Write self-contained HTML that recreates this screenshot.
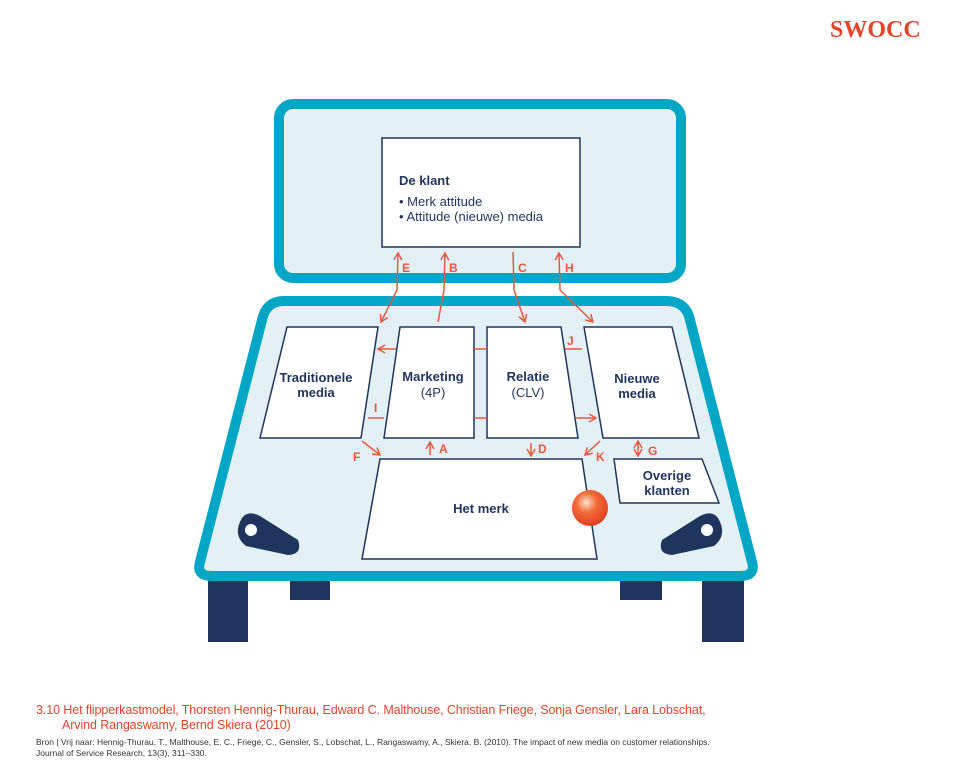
<!DOCTYPE html>
<html><head><style>
body{margin:0;background:#fff;width:960px;height:773px;overflow:hidden;font-family:"Liberation Sans",sans-serif}
</style></head><body>
<svg width="960" height="773" viewBox="0 0 960 773" xmlns="http://www.w3.org/2000/svg">
<defs><marker id="a" markerWidth="10" markerHeight="10" refX="8" refY="5" orient="auto" markerUnits="userSpaceOnUse"><path d="M1,1 L8,5 L1,9" fill="none" stroke="#e8583c" stroke-width="1.5"/></marker></defs>
<text x="830" y="37" font-family="Liberation Serif" font-weight="bold" font-size="24" fill="#e2452c">SWOCC</text>
<rect x="208" y="575" width="40" height="67" fill="#1f355e"/>
<rect x="702" y="575" width="42" height="67" fill="#1f355e"/>
<rect x="290" y="575" width="40" height="25" fill="#1f355e"/>
<rect x="620" y="575" width="42" height="25" fill="#1f355e"/>
<rect x="279" y="104" width="402" height="174" rx="14" fill="#e3f1f6" stroke="#00a6c6" stroke-width="10"/>
<rect x="382" y="138" width="198" height="109" fill="#fff" stroke="#1f355e" stroke-width="1.5"/>
<text x="399" y="185" font-size="13" font-weight="bold" fill="#1f355e">De klant</text>
<text x="399" y="206" font-size="13" fill="#1f355e">• Merk attitude</text>
<text x="399" y="221" font-size="13" fill="#1f355e">• Attitude (nieuwe) media</text>
<path d="M284,301 L666,301 Q686,301 690,320 L752,562 Q756,576 740,576 L212,576 Q196,576 200,562 L262,320 Q266,301 284,301 Z" fill="#e3f1f6" stroke="#00a6c6" stroke-width="10" stroke-linejoin="round"/>
<g fill="#fff" stroke="#1f355e" stroke-width="1.5">
<path d="M287,327 L378,327 L361,438 L260,438 Z"/>
<path d="M400,327 L474,327 L474,438 L384,438 Z"/>
<path d="M487,327 L561,327 L578,438 L487,438 Z"/>
<path d="M584,327 L672,327 L699,438 L603,438 Z"/>
<path d="M380,459 L582,459 L597,559 L362,559 Z"/>
<path d="M614,459 L702,459 L719,503 L620,503 Z"/>
</g>
<g font-size="13" font-weight="bold" fill="#1f355e" text-anchor="middle">
<text x="316" y="382">Traditionele</text><text x="316" y="397">media</text>
<text x="433" y="381">Marketing</text><text x="433" y="397" font-weight="normal">(4P)</text>
<text x="528" y="381">Relatie</text><text x="528" y="397" font-weight="normal">(CLV)</text>
<text x="637" y="383">Nieuwe</text><text x="637" y="398">media</text>
<text x="481" y="513">Het merk</text>
<text x="667" y="480">Overige</text><text x="667" y="495">klanten</text>
</g>
<defs><radialGradient id="g" cx="0.4" cy="0.35" r="0.7"><stop offset="0" stop-color="#fde3cf"/><stop offset="0.4" stop-color="#f26b3a"/><stop offset="1" stop-color="#e03a1c"/></radialGradient></defs>
<circle cx="590" cy="508" r="18" fill="url(#g)"/>
<path d="M242,518 Q232,535 246,546 L288,555 Q303,554 298,540 L260,516 Q248,510 242,518 Z" fill="#1f355e"/>
<circle cx="251" cy="530" r="6" fill="#fff"/>
<path d="M718,518 Q728,535 714,546 L672,555 Q657,554 662,540 L700,516 Q712,510 718,518 Z" fill="#1f355e"/>
<circle cx="707" cy="530" r="6" fill="#fff"/>
<g stroke="#e8583c" stroke-width="1.5" fill="none">
<path d="M397,290 L381,322" marker-end="url(#a)"/><path d="M397,290 L398,253" marker-end="url(#a)"/>
<path d="M438,322 L444,290 L445,253" marker-end="url(#a)"/>
<path d="M513,252 L514,290 L525,322" marker-end="url(#a)"/>
<path d="M560,290 L593,322" marker-end="url(#a)"/><path d="M560,290 L559,253" marker-end="url(#a)"/>
<path d="M396,349 L378,349" marker-end="url(#a)"/>
<path d="M474,349 L487,349"/><path d="M565,349 L582,349"/>
<path d="M368,418 L384,418"/><path d="M474,418 L487,418"/>
<path d="M576,418 L596,418" marker-end="url(#a)"/>
<path d="M362,441 L380,455" marker-end="url(#a)"/>
<path d="M430,455 L430,442" marker-end="url(#a)"/>
<path d="M531,443 L531,456" marker-end="url(#a)"/>
<path d="M600,441 L585,455" marker-end="url(#a)"/>
<path d="M638,448 L638,441" marker-end="url(#a)"/><path d="M638,448 L638,456" marker-end="url(#a)"/>
</g>
<g font-size="12" font-weight="bold" fill="#e8583c">
<text x="402" y="272">E</text><text x="449" y="272">B</text><text x="518" y="272">C</text><text x="565" y="272">H</text>
<text x="567" y="345">J</text><text x="374" y="412">I</text>
<text x="353" y="461">F</text><text x="439" y="453">A</text><text x="538" y="453">D</text><text x="596" y="461">K</text><text x="648" y="455">G</text>
</g>
</svg>
<div style="position:absolute;left:36px;top:703px;color:#e2452c;font-size:12.5px;line-height:15px;letter-spacing:-0.1px">3.10 Het flipperkastmodel, Thorsten Hennig-Thurau, Edward C. Malthouse, Christian Friege, Sonja Gensler, Lara Lobschat,<br><span style="padding-left:26px">Arvind Rangaswamy, Bernd Skiera (2010)</span></div>
<div style="position:absolute;left:36px;top:737px;color:#333;font-size:8.5px;line-height:11px">Bron | Vrij naar: Hennig-Thurau, T., Malthouse, E. C., Friege, C., Gensler, S., Lobschat, L., Rangaswamy, A., Skiera, B. (2010). The impact of new media on customer relationships.<br>Journal of Service Research, 13(3), 311–330.</div>
</body></html>
